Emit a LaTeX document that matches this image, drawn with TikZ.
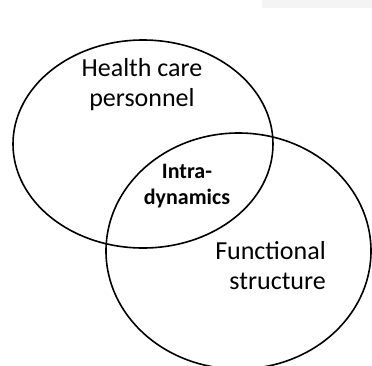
\documentclass[tikz,border=0pt]{standalone}
\usepackage{fontspec}
\setmainfont{Carlito}
\usepackage{tikz}

\tikzset{
  setring/.style={line width=1.6pt},
  setlabel/.style={font=\fontsize{26}{30}\selectfont, inner sep=0pt},
  corelabel/.style={font=\fontsize{22}{26}\selectfont\bfseries, inner sep=0pt, align=center}
}

\begin{document}
\begin{tikzpicture}[x=1pt,y=-1pt]
    \useasboundingbox (0,0) rectangle (372,365);
    \clip (0,0) rectangle (372,365);
    \fill[gray!9] (262,0) rectangle (372,8);
    % the two sets
    \draw[setring] (143,144) ellipse (130 and 104);
    \draw[setring] (238.5,251) ellipse (132.5 and 118);
    \node[setlabel, align=center] (staff) at (142,85) {Health care\\personnel};
    \node[setlabel, align=right, anchor=east] (frame) at (326,266) {Functional\\structure};
    \node[corelabel] (core) at (187,186) {Intra-\\dynamics};
  \end{tikzpicture}
\end{document}
